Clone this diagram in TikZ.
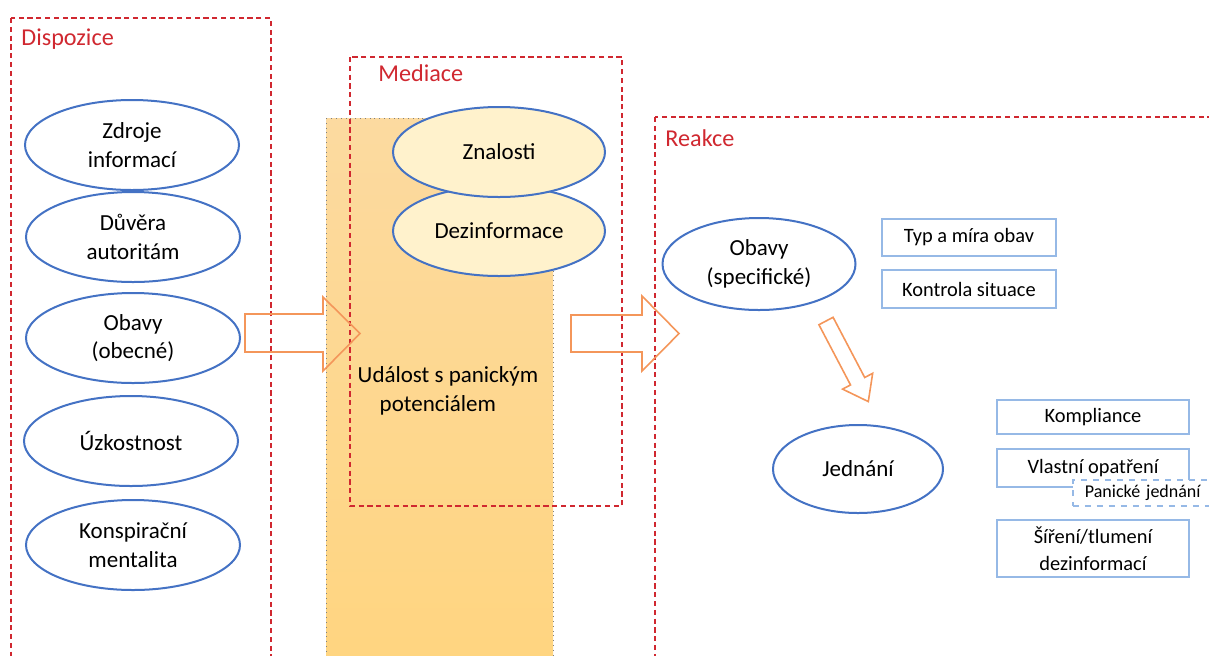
\documentclass[tikz,border=0pt]{standalone}
\usepackage{fontspec}
\setmainfont{Carlito}
\usepackage{tikz}
\usetikzlibrary{positioning,shapes.geometric}

\definecolor{frameRed}{RGB}{208,40,48}
\definecolor{ovalBlue}{RGB}{68,114,196}
\definecolor{boxBlue}{RGB}{150,185,230}
\definecolor{arrowOrange}{RGB}{244,150,90}
\definecolor{eventTop}{RGB}{252,218,160}
\definecolor{eventBottom}{RGB}{255,213,128}
\definecolor{ovalFill}{RGB}{255,242,204}

\begin{document}
\begin{tikzpicture}[
    x=0.5pt, y=-0.5pt,
    font=\fontsize{11.5}{14.3}\selectfont,
    frame/.style={
        draw=frameRed,
        line width=0.8pt,
        dash pattern=on 2.6pt off 1.8pt
    },
    hdr/.style={
        anchor=west,
        text=frameRed,
        inner sep=0pt,
        font=\fontsize{12.1}{14}\selectfont
    },
    oval/.style={
        ellipse,
        draw=ovalBlue,
        line width=1pt,
        fill=white,
        align=center,
        inner sep=0pt,
        minimum width=107pt,
        minimum height=45pt
    },
    rbox/.style={
        rectangle,
        draw=boxBlue,
        line width=0.9pt,
        fill=white,
        align=center,
        inner sep=0pt,
        minimum width=96pt,
        font=\fontsize{10.2}{13.5}\selectfont
    },
    blockarrow/.style={
        draw=arrowOrange,
        line width=0.8pt,
        line join=miter
    }
]
\useasboundingbox (0,0) rectangle (1209,655);
\clip (0,0) rectangle (1209,655);

% event column
\draw[draw=gray, dotted, top color=eventTop, bottom color=eventBottom] (326,118) rectangle (553,662);
\node[align=left] (event) at (448,391) {Událost s panickým\\\hspace{11pt}potenciálem};

% frames
\draw[frame] (11,18) rectangle (271,662);
\draw[frame] (350,57) rectangle (622,506);
\draw[frame] (655,117) rectangle (1216,662);
\node[hdr] (dispozice) at (21,39) {Dispozice};
\node[hdr] (mediace) at (378,73) {Mediace};
\node[hdr] (reakce) at (665,138) {Reakce};

% dispositions
\node[oval] (zdroje) at (132,145) {Zdroje\\informací};
\node[oval] (duvera) at (133,237) {Důvěra\\autoritám};
\node[oval] (obavy) at (133,338) {Obavy\\(obecné)};
\node[oval] (uzkost) at (131,441) {Úzkostnost};
\node[oval] (konsp) at (133,545) {Konspirační\\mentalita};

% mediation
\node[oval, fill=ovalFill, minimum width=106pt] (dezinf) at (499,231) {Dezinformace};
\node[oval, fill=ovalFill, minimum width=106pt] (znalosti) at (499,152) {Znalosti};

% reactions
\node[oval, minimum width=96.5pt, minimum height=46pt] (obavyspec) at (759,264) {Obavy\\(specifické)};
\node[rbox, anchor=west, minimum width=87pt, minimum height=18.5pt] (typ) at (881,237.5) {Typ a míra obav};
\node[rbox, anchor=west, minimum width=87pt, minimum height=19pt] (kontrola) at (881,289) {Kontrola situace};
\node[oval, minimum width=85pt, minimum height=44pt] (jednani) at (858,469) {Jednání};
\node[rbox, minimum height=17pt] (kompliance) at (1093,417) {Kompliance};
\node[rbox, minimum height=19pt] (vlastni) at (1093,468) {Vlastní opatření};
\node[rbox, dashed, anchor=west, minimum width=72pt, minimum height=13pt,
      font=\fontsize{9}{10}\selectfont, text width=66pt, align=left] (panicke) at (1072,493) {\hspace{3pt}Panické jednání};
\node[rbox, minimum height=28.5pt] (sireni) at (1093,548.5) {Šíření/tlumení\\dezinformací};

% block arrows
\draw[blockarrow] (245,314) -- (323,314) -- (323,297) -- (360,333.5) -- (323,371)
    -- (323,352) -- (245,352) -- cycle;
\draw[blockarrow] (571,315) -- (642,315) -- (642,296) -- (679,333.5) -- (642,371)
    -- (642,352) -- (571,352) -- cycle;
\begin{scope}[shift={(826,321)}, rotate=-62.3]
\draw[blockarrow] (0,-8) -- (68,-8) -- (68,-17) -- (91,0) -- (68,17) -- (68,8) -- (0,8) -- cycle;
\end{scope}

\end{tikzpicture}
\end{document}
